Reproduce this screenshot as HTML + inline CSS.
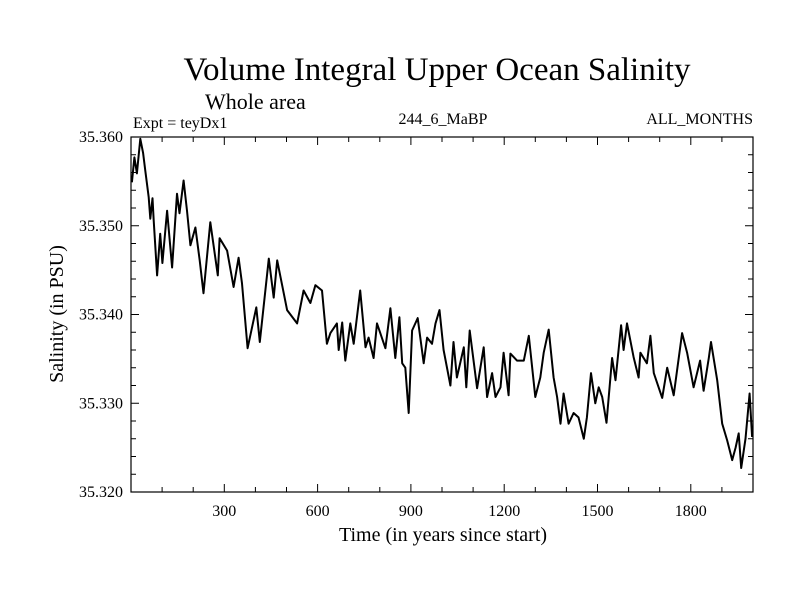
<!DOCTYPE html>
<html><head><meta charset="utf-8"><style>
body{margin:0;background:#fff}
svg text{font-family:"Liberation Serif",serif;fill:#000}
</style></head><body>
<svg id="c" width="800" height="600">
<text x="437" y="80" font-size="33" text-anchor="middle">Volume Integral Upper Ocean Salinity</text>
<text x="205" y="109" font-size="22">Whole area</text>
<text x="133" y="128" font-size="16">Expt = teyDx1</text>
<text x="443" y="124" font-size="16" text-anchor="middle">244_6_MaBP</text>
<text x="753" y="124" font-size="16" text-anchor="end">ALL_MONTHS</text>
<text x="443" y="541" font-size="20" text-anchor="middle">Time (in years since start)</text>
<text transform="translate(63,314) rotate(-90)" font-size="20" text-anchor="middle">Salinity (in PSU)</text>
<g id="ticks"></g>
<path id="line" fill="none" stroke="#000" stroke-width="2" stroke-linejoin="round"/>
<rect x="131" y="137" width="622" height="355" fill="none" stroke="#000" stroke-width="1.2"/>
</svg>
<script>
const years=[3,11,19,30,39,46,57,62,69,73,84,94,101,116,132,148,156,169,180,191,207,221,233,255,279,285,309,330,346,357,375,403,414,443,459,470,502,534,555,577,593,614,630,641,662,668,679,689,705,716,737,754,764,780,791,818,834,850,863,872,882,893,904,922,941,952,968,979,992,1005,1027,1037,1048,1070,1078,1089,1113,1134,1145,1161,1172,1188,1198,1214,1220,1241,1263,1279,1300,1316,1327,1343,1359,1370,1381,1391,1407,1423,1439,1456,1466,1479,1493,1504,1515,1529,1547,1558,1576,1584,1595,1616,1632,1638,1659,1670,1681,1708,1724,1745,1772,1788,1809,1830,1841,1858,1865,1885,1901,1917,1933,1944,1954,1962,1976,1989,1997];
const salinity=[35.3549,35.3577,35.3559,35.3598,35.3582,35.3562,35.3532,35.3508,35.3531,35.3506,35.3444,35.3491,35.3458,35.3517,35.3453,35.3536,35.3514,35.3551,35.3517,35.3478,35.3498,35.3461,35.3424,35.3504,35.3444,35.3486,35.3472,35.3431,35.3464,35.3435,35.3362,35.3408,35.3369,35.3463,35.3419,35.3461,35.3405,35.3390,35.3427,35.3413,35.3433,35.3427,35.3367,35.3379,35.3390,35.3360,35.3391,35.3348,35.3390,35.3367,35.3427,35.3363,35.3374,35.3351,35.3390,35.3362,35.3407,35.3351,35.3397,35.3345,35.3340,35.3289,35.3382,35.3396,35.3345,35.3374,35.3367,35.3390,35.3405,35.3360,35.3320,35.3369,35.3329,35.3363,35.3318,35.3382,35.3317,35.3363,35.3307,35.3334,35.3307,35.3318,35.3357,35.3309,35.3356,35.3348,35.3348,35.3376,35.3307,35.3329,35.3357,35.3383,35.3329,35.3307,35.3277,35.3311,35.3277,35.3289,35.3284,35.3260,35.3284,35.3334,35.3300,35.3318,35.3307,35.3278,35.3351,35.3326,35.3388,35.3360,35.3390,35.3352,35.3329,35.3357,35.3345,35.3376,35.3334,35.3306,35.3340,35.3309,35.3379,35.3357,35.3318,35.3348,35.3314,35.3351,35.3369,35.3326,35.3277,35.3258,35.3236,35.3250,35.3266,35.3227,35.3260,35.3311,35.3262];
const xTickLabels=[300,600,900,1200,1500,1800];
const yTickLabels=["35.320","35.330","35.340","35.350","35.360"];
const X0=131,X1=753,Y0=492,Y1=137,XMIN=0,XMAX=2000,YMIN=35.32,YMAX=35.36;
const sx=v=>X0+(v-XMIN)/(XMAX-XMIN)*(X1-X0);
const sy=v=>Y0-(v-YMIN)/(YMAX-YMIN)*(Y0-Y1);
const NS="http://www.w3.org/2000/svg";
const g=document.getElementById('ticks');
function ln(x1,y1,x2,y2){const l=document.createElementNS(NS,'line');l.setAttribute('x1',x1);l.setAttribute('y1',y1);l.setAttribute('x2',x2);l.setAttribute('y2',y2);l.setAttribute('stroke','#000');l.setAttribute('stroke-width','1');


g.appendChild(l);}
function tx(x,y,s,anchor,name){const t=document.createElementNS(NS,'text');t.setAttribute('x',x);t.setAttribute('y',y);t.setAttribute('font-size','16');t.setAttribute('text-anchor',anchor);t.textContent=s;


g.appendChild(t);}
for(let v=100;v<XMAX;v+=100){const x=sx(v),L=(v%300===0)?8:5;ln(x,Y0,x,Y0-L);ln(x,Y1,x,Y1+L);}
xTickLabels.forEach(v=>tx(sx(v),516,String(v),'middle','x-tick-label'));
for(let i=1;i<20;i++){const v=YMIN+i*0.002,y=sy(v),L=(i%5===0)?8:5;ln(X0,y,X0+L,y);ln(X1,y,X1-L,y);}
yTickLabels.forEach(s=>tx(123,sy(parseFloat(s))+5,s,'end','y-tick-label'));
document.getElementById('line').setAttribute('d',years.map((y,i)=>(i?'L':'M')+sx(y).toFixed(1)+','+sy(salinity[i]).toFixed(1)).join(''));
</script>
</body></html>
